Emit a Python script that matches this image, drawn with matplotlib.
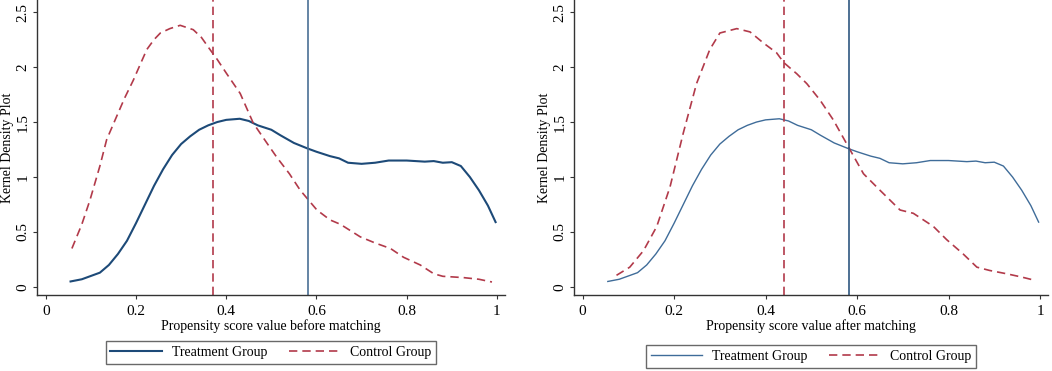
import numpy as np
from matplotlib import pyplot as plt

plt.rcParams['font.family'] = ['Liberation Serif', 'DejaVu Serif']

# Kernel density curves
treat_x = [0.055, 0.08, 0.10, 0.12, 0.14, 0.16, 0.18, 0.20, 0.22, 0.24, 0.26, 0.28, 0.30,
           0.32, 0.34, 0.36, 0.38, 0.40, 0.43, 0.45, 0.47, 0.50, 0.52, 0.55, 0.58, 0.60,
           0.63, 0.65, 0.67, 0.70, 0.73, 0.76, 0.80, 0.84, 0.86, 0.88, 0.90, 0.92, 0.94,
           0.96, 0.98, 0.997]
treat_y = [0.05, 0.07, 0.10, 0.13, 0.20, 0.30, 0.42, 0.58, 0.75, 0.92, 1.07, 1.20, 1.30,
           1.37, 1.43, 1.47, 1.50, 1.52, 1.53, 1.51, 1.47, 1.43, 1.38, 1.31, 1.26, 1.23,
           1.19, 1.17, 1.13, 1.12, 1.13, 1.15, 1.15, 1.14, 1.145, 1.13, 1.135, 1.10, 1.00,
           0.88, 0.74, 0.59]

ctrl_before_x = [0.058, 0.08, 0.098, 0.12, 0.135, 0.157, 0.175, 0.194, 0.21, 0.224, 0.24,
                 0.254, 0.275, 0.298, 0.327, 0.345, 0.364, 0.38, 0.401, 0.431, 0.46, 0.49,
                 0.512, 0.54, 0.564, 0.601, 0.63, 0.653, 0.697, 0.73, 0.764, 0.793, 0.83,
                 0.86, 0.88, 0.926, 0.96, 0.989]
ctrl_before_y = [0.35, 0.57, 0.79, 1.10, 1.34, 1.55, 1.72, 1.88, 2.03, 2.16, 2.25,
                 2.31, 2.35, 2.38, 2.34, 2.27, 2.16, 2.07, 1.94, 1.76, 1.49, 1.31,
                 1.18, 1.03, 0.88, 0.70, 0.61, 0.57, 0.456, 0.40, 0.35, 0.27, 0.20,
                 0.12, 0.097, 0.085, 0.07, 0.045]

ctrl_after_x = [0.074, 0.103, 0.133, 0.162, 0.191, 0.22, 0.249, 0.278, 0.30, 0.337, 0.366,
                0.395, 0.424, 0.44, 0.468, 0.49, 0.519, 0.548, 0.585, 0.614, 0.65, 0.694,
                0.723, 0.767, 0.796, 0.832, 0.862, 0.89, 0.927, 0.96, 0.989]
ctrl_after_y = [0.106, 0.18, 0.33, 0.55, 0.91, 1.40, 1.85, 2.16, 2.31, 2.35, 2.32,
                2.22, 2.13, 2.04, 1.94, 1.85, 1.70, 1.52, 1.245, 1.03, 0.88, 0.70,
                0.67, 0.55, 0.43, 0.30, 0.18, 0.15, 0.12, 0.09, 0.06]

mean_treat = 0.582
mean_ctrl_before = 0.37
mean_ctrl_after = 0.44

xticks = [0, 0.2, 0.4, 0.6, 0.8, 1]
xticklabels = ['0', '0.2', '0.4', '0.6', '0.8', '1']
yticks = [0, 0.5, 1, 1.5, 2, 2.5]
yticklabels = ['0', '0.5', '1', '1.5', '2', '2.5']

red = '#b23a4a'
axis_col = '#333333'

fig = plt.figure(figsize=(10.52, 3.71), dpi=100)


def setup(ax, xlim, xlabel, ylab_x):
    ax.set_xlim(xlim)
    ax.set_ylim(-0.073, 2.61)
    for s in ['top', 'right']:
        ax.spines[s].set_visible(False)
    for s in ['left', 'bottom']:
        ax.spines[s].set_color(axis_col)
        ax.spines[s].set_linewidth(1.0)
    ax.set_xticks(xticks)
    ax.set_xticklabels(xticklabels)
    ax.set_yticks(yticks)
    ax.set_yticklabels(yticklabels, rotation=90, va='center')
    ax.tick_params(axis='both', direction='out', length=3, width=0.8, color=axis_col,
                   labelsize=11)
    ax.tick_params(axis='x', pad=4)
    ax.tick_params(axis='y', pad=2.5)
    ax.set_xlabel(xlabel, fontsize=10, labelpad=1)
    ax.set_ylabel('Kernel Density Plot', fontsize=10, va='center')
    ax.yaxis.set_label_coords(ylab_x, 0.5)


def legend(ax, handles, cx, cy):
    leg = fig.legend(handles, ['Treatment Group', 'Control Group'], ncol=2,
                     loc='center', bbox_to_anchor=(cx, cy), frameon=True, fancybox=False,
                     edgecolor='#444444', fontsize=10, handlelength=3.7, columnspacing=1.6,
                     borderpad=0.35, handletextpad=0.7, borderaxespad=0)
    leg.get_frame().set_linewidth(1.0)


# left panel: before matching
ax1 = fig.add_axes([0.0352, 0.2049, 0.4449, 0.795])
setup(ax1, (-0.0193, 1.018), 'Propensity score value before matching', -0.063)
t1, = ax1.plot(treat_x, treat_y, color='#1d4a78', lw=1.5)
c1, = ax1.plot(ctrl_before_x, ctrl_before_y, color=red, lw=1.2, ls=(0, (5, 3)))
ax1.axvline(mean_ctrl_before, color=red, lw=1.2, ls=(0, (5, 3)))
ax1.axvline(mean_treat, color='#4a6f95', lw=1.2)
legend(ax1, [t1, c1], 0.2576, 0.05)

# right panel: after matching
ax2 = fig.add_axes([0.5456, 0.2049, 0.4506, 0.795])
setup(ax2, (-0.019, 1.0175), 'Propensity score value after matching', -0.062)
t2, = ax2.plot(treat_x, treat_y, color='#3f6c99', lw=1.0)
c2, = ax2.plot(ctrl_after_x, ctrl_after_y, color=red, lw=1.2, ls=(0, (5, 3)))
ax2.axvline(mean_ctrl_after, color=red, lw=1.2, ls=(0, (5, 3)))
ax2.axvline(mean_treat, color='#2f5780', lw=1.2)
legend(ax2, [t2, c2], 0.771, 0.039)

fig.savefig('out.png', dpi=100)
